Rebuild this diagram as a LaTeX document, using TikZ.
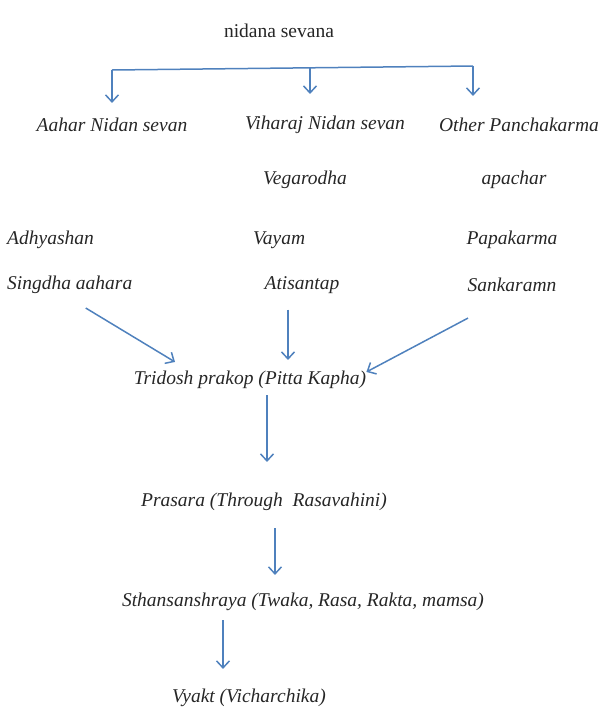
\documentclass[tikz,border=0pt]{standalone}
\usepackage{fontspec}
\setmainfont{Liberation Serif}
\usetikzlibrary{arrows.meta}
\definecolor{arrowblue}{RGB}{79,129,189}
\tikzset{
  lbl/.style={font=\fontsize{19.5}{22}\selectfont\itshape,text=black!85,inner sep=0pt},
  arr/.style={draw=arrowblue,line width=1.5pt,-{Straight Barb[length=7pt,width=13pt]}}
}
\begin{document}
\begin{tikzpicture}[x=1pt,y=-1pt]
\useasboundingbox (0,0) rectangle (606,713);
\node[lbl,font=\fontsize{19.5}{22}\selectfont] (nidana) at (279,31) {nidana sevana};
%\draw[help lines] (0,0) grid[step=50] (606,713);
\coordinate (barL) at (112,70);
\coordinate (barM) at (310,68);
\coordinate (barR) at (473,66);
\draw[draw=arrowblue,line width=1.5pt] (barL) -- (barR);
\node[lbl] (aahar) at (112,125) {Aahar Nidan sevan};
\node[lbl] (vihar) at (325,125) {Viharaj Nidan sevan};
\node[lbl] (other) at (519,125) {Other Panchakarma};
\node[lbl] (vega) at (305,180) {Vegarodha};
\node[lbl] (apachar) at (514,180) {apachar};
\node[lbl,anchor=west] (adhy) at (7,240) {Adhyashan};
\node[lbl,anchor=west] (vayam) at (253,240) {Vayam};
\node[lbl] (papa) at (512,240) {Papakarma};
\node[lbl,anchor=west] (singdha) at (7,285) {Singdha aahara};
\node[lbl] (atisan) at (302,285) {Atisantap};
\node[lbl] (sankar) at (512,285) {Sankaramn};
\node[lbl] (tridosh) at (250,380) {Tridosh prakop (Pitta Kapha)};
\node[lbl] (prasara) at (264,502) {Prasara (Through\ \ Rasavahini)};
\node[lbl] (sthan) at (303,602) {Sthansanshraya (Twaka, Rasa, Rakta, mamsa)};
\node[lbl] (vyakt) at (249,698) {Vyakt (Vicharchika)};
\draw[arr,shorten >=15pt] (barL) -- (barL |- aahar.north);
\draw[arr,shorten >=22pt] (barM) -- (barM |- vihar.north);
\draw[arr,shorten >=22pt] (barR) -- (barR |- other.north);
\draw[arr] ([shift={(16,14)}]singdha.south) -- ([shift={(-75,-9)}]tridosh.north);
\draw[arr] ([shift={(-14,16)}]atisan.south) -- ([shift={(38,-11)}]tridosh.north);
\draw[arr] ([shift={(-44,26)}]sankar.south) -- ([shift={(0,1)}]tridosh.north east);
\draw[arr] ([shift={(17,6)}]tridosh.south) -- ([shift={(3,-31)}]prasara.north);
\draw[arr] ([shift={(11,17)}]prasara.south) -- ([shift={(-28,-18)}]sthan.north);
\draw[arr] ([shift={(-80,9)}]sthan.south) -- ([shift={(-26,-20)}]vyakt.north);
\end{tikzpicture}
\end{document}
